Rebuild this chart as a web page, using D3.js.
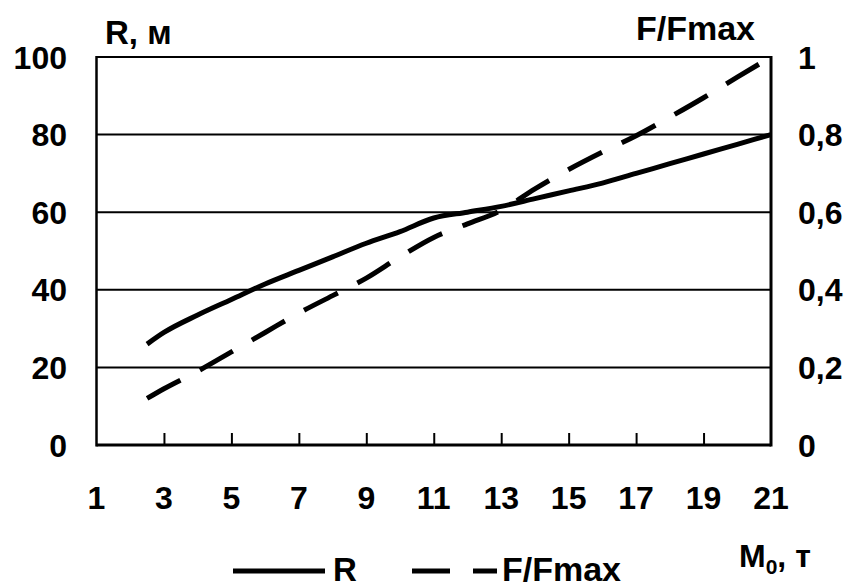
<!DOCTYPE html>
<html>
<head>
<meta charset="utf-8">
<script src="https://cdn.jsdelivr.net/npm/d3@7"></script>
<style>
  body { margin: 0; background: #fff; }
  svg text { font-family: "Liberation Sans", Arial, sans-serif; font-weight: bold; fill: #000; }
</style>
</head>
<body>
<div id="chart"></div>
<script>
// data
const massValues = [2.5, 3, 4, 5, 6, 7, 8, 9, 10, 11, 12, 13, 14, 15, 16, 17, 18, 19, 20, 21];
const rValues = [26, 29, 33.5, 37.5, 41.5, 45, 48.5, 52, 55, 58.5, 60, 61.5, 63.5, 65.5, 67.5, 70, 72.5, 75, 77.5, 80];
const fValues = [0.12, 0.145, 0.19, 0.24, 0.29, 0.34, 0.385, 0.43, 0.485, 0.535, 0.57, 0.605, 0.66, 0.71, 0.755, 0.797, 0.845, 0.895, 0.948, 1.0];
const xTicks = [1, 3, 5, 7, 9, 11, 13, 15, 17, 19, 21];
const leftTicks = [0, 20, 40, 60, 80, 100];
const rightTicks = [0, 0.2, 0.4, 0.6, 0.8, 1];

const width = 852, height = 587;
const plotLeft = 96.5, plotRight = 771, plotTop = 57, plotBottom = 445;

const svg = d3.select("#chart").append("svg")
    .attr("width", width)
    .attr("height", height);

const x = d3.scaleLinear().domain([1, 21]).range([plotLeft, plotRight]);
const yL = d3.scaleLinear().domain([0, 100]).range([plotBottom, plotTop]);
const yR = d3.scaleLinear().domain([0, 1]).range([plotBottom, plotTop]);

// gridlines
svg.append("g")
    .selectAll("line")
    .data(leftTicks.filter(d => d > 0))
    .enter().append("line")
    .attr("x1", plotLeft).attr("x2", plotRight)
    .attr("y1", d => yL(d)).attr("y2", d => yL(d))
    .attr("stroke", "#000")
    .attr("stroke-width", 2);

// x axis (ticks point inward)
const xAxis = svg.append("g")
    .attr("transform", `translate(0,${plotBottom})`)
    .call(d3.axisBottom(x).tickValues(xTicks.slice(1, -1)).tickSize(-12).tickFormat(""));
xAxis.select(".domain").remove();
xAxis.selectAll(".tick line").attr("stroke", "#000").attr("stroke-width", 2);

svg.append("line")
    .attr("x1", plotLeft).attr("x2", plotRight)
    .attr("y1", plotBottom).attr("y2", plotBottom)
    .attr("stroke", "#000").attr("stroke-width", 3);
svg.append("line")
    .attr("x1", plotLeft).attr("x2", plotLeft)
    .attr("y1", plotTop - 1).attr("y2", plotBottom + 1.5)
    .attr("stroke", "#000").attr("stroke-width", 2.5);
svg.append("line")
    .attr("x1", plotRight).attr("x2", plotRight)
    .attr("y1", plotTop - 1).attr("y2", plotBottom + 1.5)
    .attr("stroke", "#000").attr("stroke-width", 3);

// tick labels
svg.append("g")
    .selectAll("text")
    .data(xTicks)
    .enter().append("text")
    .attr("x", d => x(d))
    .attr("y", 509)
    .attr("text-anchor", "middle")
    .style("font-size", "32px")
    .text(d => d);

svg.append("g")
    .selectAll("text")
    .data(leftTicks)
    .enter().append("text")
    .attr("x", 67)
    .attr("y", d => yL(d) + 11.5)
    .attr("text-anchor", "end")
    .style("font-size", "32px")
    .text(d => d);

svg.append("g")
    .selectAll("text")
    .data(rightTicks)
    .enter().append("text")
    .attr("x", 798)
    .attr("y", d => yR(d) + 11.5)
    .attr("text-anchor", "start")
    .style("font-size", "32px")
    .text(d => String(d).replace(".", ","));

// lines
const rLine = d3.line()
    .x((d, i) => x(massValues[i]))
    .y(d => yL(d))
    .curve(d3.curveMonotoneX);
const fLine = d3.line()
    .x((d, i) => x(massValues[i]))
    .y(d => yR(d))
    .curve(d3.curveMonotoneX);

svg.append("path")
    .datum(rValues)
    .attr("d", rLine)
    .attr("fill", "none")
    .attr("stroke", "#000")
    .attr("stroke-width", 5);

svg.append("path")
    .datum(fValues)
    .attr("d", fLine)
    .attr("fill", "none")
    .attr("stroke", "#000")
    .attr("stroke-width", 5)
    .attr("stroke-dasharray", "38,22");

// axis titles
svg.append("text")
    .attr("x", 105).attr("y", 44)
    .style("font-size", "33px")
    .text("R, м");
svg.append("text")
    .attr("x", 755).attr("y", 40)
    .attr("text-anchor", "end")
    .style("font-size", "34px")
    .text("F/Fmax");
const mt = svg.append("text")
    .attr("x", 739).attr("y", 567)
    .style("font-size", "32px");
mt.append("tspan").text("M");
mt.append("tspan").attr("dy", 7).style("font-size", "21px").text("0");
mt.append("tspan").attr("dy", -7).text(", т");

// legend
const legend = svg.append("g");
legend.append("line")
    .attr("x1", 233).attr("x2", 325)
    .attr("y1", 571).attr("y2", 571)
    .attr("stroke", "#000").attr("stroke-width", 5);
legend.append("text")
    .attr("x", 333).attr("y", 581)
    .style("font-size", "33px")
    .text("R");
legend.append("line")
    .attr("x1", 412).attr("x2", 497)
    .attr("y1", 571).attr("y2", 571)
    .attr("stroke", "#000").attr("stroke-width", 5)
    .attr("stroke-dasharray", "38,23");
legend.append("text")
    .attr("x", 502).attr("y", 581)
    .style("font-size", "34px")
    .text("F/Fmax");
</script>
</body>
</html>
